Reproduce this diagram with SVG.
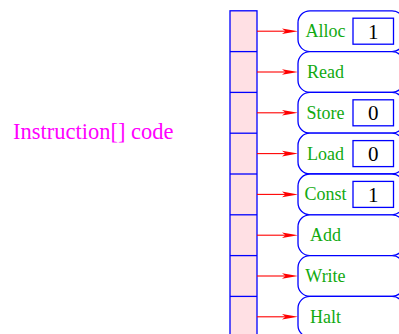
<svg xmlns="http://www.w3.org/2000/svg" width="399" height="334" viewBox="0 0 399 334">
<style>
.arr{fill:#ffe0e4;stroke:#0000ff;stroke-width:1.3}
.sep{stroke:#0000ff;stroke-width:1.3}
.node{fill:#ffffff;stroke:#0000ff;stroke-width:1.3}
.box{fill:#ffffff;stroke:#0000ff;stroke-width:1.3}
.lbl{font-family:"Liberation Serif","Times New Roman",serif;font-size:18px;fill:#11aa11;text-anchor:middle}
.num{font-family:"Liberation Serif","Times New Roman",serif;font-size:21px;fill:#000000;text-anchor:middle}
.title{font-family:"Liberation Serif","Times New Roman",serif;font-size:22.5px;fill:#ff00ff}
.con{stroke:#ff0000;stroke-width:1.1;fill:none}
.head{fill:#ff0000}
</style>
<rect width="399" height="334" fill="#ffffff"/>
<text class="title" x="13" y="139.3">Instruction[] code</text>
<g id="array">
<rect class="arr" x="230" y="10.8" width="27" height="340"/>
<line class="sep" x1="230" y1="51.6" x2="257" y2="51.6"/>
<line class="sep" x1="230" y1="92.4" x2="257" y2="92.4"/>
<line class="sep" x1="230" y1="133.2" x2="257" y2="133.2"/>
<line class="sep" x1="230" y1="174" x2="257" y2="174"/>
<line class="sep" x1="230" y1="214.8" x2="257" y2="214.8"/>
<line class="sep" x1="230" y1="255.6" x2="257" y2="255.6"/>
<line class="sep" x1="230" y1="296.4" x2="257" y2="296.4"/>
</g>
<g id="node-alloc">
<rect class="node" x="298" y="10.8" width="106" height="40.8" rx="12"/>
<text class="lbl" x="325.5" y="37.2">Alloc</text>
<rect class="box" x="353" y="18.2" width="40.5" height="26"/>
<text class="num" x="373.2" y="38.7">1</text>
</g>
<g id="node-read">
<rect class="node" x="298" y="51.6" width="106" height="40.8" rx="12"/>
<text class="lbl" x="325.5" y="78">Read</text>
</g>
<g id="node-store">
<rect class="node" x="298" y="92.4" width="106" height="40.8" rx="12"/>
<text class="lbl" x="325.5" y="118.8">Store</text>
<rect class="box" x="353" y="99.8" width="40.5" height="26"/>
<text class="num" x="373.2" y="120.3">0</text>
</g>
<g id="node-load">
<rect class="node" x="298" y="133.2" width="106" height="40.8" rx="12"/>
<text class="lbl" x="325.5" y="159.6">Load</text>
<rect class="box" x="353" y="140.6" width="40.5" height="26"/>
<text class="num" x="373.2" y="161.1">0</text>
</g>
<g id="node-const">
<rect class="node" x="298" y="174" width="106" height="40.8" rx="12"/>
<text class="lbl" x="325.5" y="200.4">Const</text>
<rect class="box" x="353" y="181.4" width="40.5" height="26"/>
<text class="num" x="373.2" y="201.9">1</text>
</g>
<g id="node-add">
<rect class="node" x="298" y="214.8" width="106" height="40.8" rx="12"/>
<text class="lbl" x="325.5" y="241.2">Add</text>
</g>
<g id="node-write">
<rect class="node" x="298" y="255.6" width="106" height="40.8" rx="12"/>
<text class="lbl" x="325.5" y="282">Write</text>
</g>
<g id="node-halt">
<rect class="node" x="298" y="296.4" width="106" height="40.8" rx="12"/>
<text class="lbl" x="325.5" y="322.8">Halt</text>
</g>
<g id="connectors">
<g transform="translate(0,31.2)"><line class="con" x1="257" y1="0" x2="288" y2="0"/><path class="head" d="M298,0 L282,-2.8 L285.5,0 L282,2.8 Z"/></g>
<g transform="translate(0,72)"><line class="con" x1="257" y1="0" x2="288" y2="0"/><path class="head" d="M298,0 L282,-2.8 L285.5,0 L282,2.8 Z"/></g>
<g transform="translate(0,112.8)"><line class="con" x1="257" y1="0" x2="288" y2="0"/><path class="head" d="M298,0 L282,-2.8 L285.5,0 L282,2.8 Z"/></g>
<g transform="translate(0,153.6)"><line class="con" x1="257" y1="0" x2="288" y2="0"/><path class="head" d="M298,0 L282,-2.8 L285.5,0 L282,2.8 Z"/></g>
<g transform="translate(0,194.4)"><line class="con" x1="257" y1="0" x2="288" y2="0"/><path class="head" d="M298,0 L282,-2.8 L285.5,0 L282,2.8 Z"/></g>
<g transform="translate(0,235.2)"><line class="con" x1="257" y1="0" x2="288" y2="0"/><path class="head" d="M298,0 L282,-2.8 L285.5,0 L282,2.8 Z"/></g>
<g transform="translate(0,276)"><line class="con" x1="257" y1="0" x2="288" y2="0"/><path class="head" d="M298,0 L282,-2.8 L285.5,0 L282,2.8 Z"/></g>
<g transform="translate(0,316.8)"><line class="con" x1="257" y1="0" x2="288" y2="0"/><path class="head" d="M298,0 L282,-2.8 L285.5,0 L282,2.8 Z"/></g>
</g>
</svg>
